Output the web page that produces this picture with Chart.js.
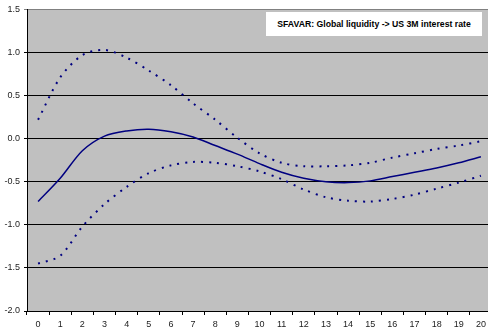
<!DOCTYPE html>
<html>
<head>
<meta charset="utf-8">
<script src="https://cdn.jsdelivr.net/npm/chart.js@4.4.1/dist/chart.umd.min.js"></script>
<style>
    html, body { margin: 0; padding: 0; background: #fff; overflow: hidden; }
    #wrap { position: relative; width: 494px; height: 333px; }
    #chartTitle {
        position: absolute; left: 266px; top: 12px; width: 216px; height: 24px;
        background: #fff; font-family: "Liberation Sans", Arial, sans-serif;
        font-weight: bold; font-size: 8.7px; line-height: 24px; text-align: center; color: #000;
    }
</style>
</head>
<body>
<div id="wrap">
    <canvas id="irf-chart" width="494" height="333"></canvas>
    <div id="chartTitle">SFAVAR: Global liquidity -&gt; US 3M interest rate</div>
</div>
<script>
// horizon (periods after shock)
const periods = ['0', '1', '2', '3', '4', '5', '6', '7', '8', '9', '10',
    '11', '12', '13', '14', '15', '16', '17', '18', '19', '20'];

// impulse response and error bands
const irfMedian = [-0.73, -0.46, -0.14, 0.03, 0.09, 0.11, 0.08, 0.02, -0.08, -0.18, -0.29,
    -0.39, -0.46, -0.50, -0.51, -0.49, -0.44, -0.39, -0.34, -0.28, -0.21];
const irfUpper = [0.22, 0.71, 0.97, 1.03, 0.94, 0.79, 0.62, 0.41, 0.22, 0.01, -0.17,
    -0.28, -0.32, -0.32, -0.31, -0.28, -0.22, -0.17, -0.12, -0.08, -0.03];
const irfLower = [-1.45, -1.36, -1.02, -0.76, -0.56, -0.40, -0.31, -0.27, -0.28, -0.32, -0.38,
    -0.47, -0.59, -0.68, -0.72, -0.73, -0.70, -0.65, -0.58, -0.51, -0.43];

const yTicks = [-2.0, -1.5, -1.0, -0.5, 0.0, 0.5, 1.0, 1.5];

const navy = '#000080';

// gray plot area like the old excel charts
const plotBackground = {
    id: 'plotBackground',
    beforeDraw(chart) {
        const a = chart.chartArea;
        const ctx = chart.ctx;
        ctx.save();
        ctx.fillStyle = '#c0c0c0';
        ctx.fillRect(a.left, a.top, a.right - a.left, a.bottom - a.top);
        ctx.restore();
    }
};

function lineSet(label, data, dashed) {
    return {
        label: label,
        data: data,
        borderColor: navy,
        borderWidth: dashed ? 2 : 1.5,
        borderDash: dashed ? [2, 6] : [],
        pointRadius: 0,
        tension: 0.3,
        fill: false
    };
}

var ctx = document.getElementById('irf-chart').getContext('2d');
new Chart(ctx, {
    type: 'line',
    data: {
        labels: periods,
        datasets: [
            lineSet('Upper', irfUpper, true),
            lineSet('Median', irfMedian, false),
            lineSet('Lower', irfLower, true)
        ]
    },
    plugins: [plotBackground],
    options: {
        responsive: false,
        animation: false,
        layout: { padding: { top: 7, right: 2, left: 0, bottom: 0 } },
        plugins: {
            legend: { display: false },
            tooltip: { enabled: false }
        },
        scales: {
            x: {
                offset: true,
                grid: {
                    offset: true,
                    drawOnChartArea: false,
                    drawTicks: true,
                    tickLength: 4,
                    color: '#000'
                },
                border: { color: '#000', width: 1 },
                ticks: {
                    color: '#222',
                    padding: 4,
                    maxRotation: 0,
                    autoSkip: false,
                    font: { family: 'Liberation Sans', size: 9 }
                },
                afterFit: function (scale) { scale.height = 22; }
            },
            y: {
                min: -2.0,
                max: 1.5,
                afterBuildTicks: function (scale) {
                    scale.ticks = yTicks.map(v => ({ value: v }));
                },
                grid: {
                    color: ctx => (ctx.tick && ctx.tick.value === 1.5) ? '#808080' : '#000',
                    tickLength: 3
                },
                border: { color: '#000', width: 1 },
                ticks: {
                    color: '#222',
                    padding: 4,
                    font: { family: 'Liberation Sans', size: 9 },
                    callback: v => Number(v).toFixed(1)
                },
                afterFit: function (scale) { scale.width = 27; }
            }
        }
    }
});
</script>
</body>
</html>
